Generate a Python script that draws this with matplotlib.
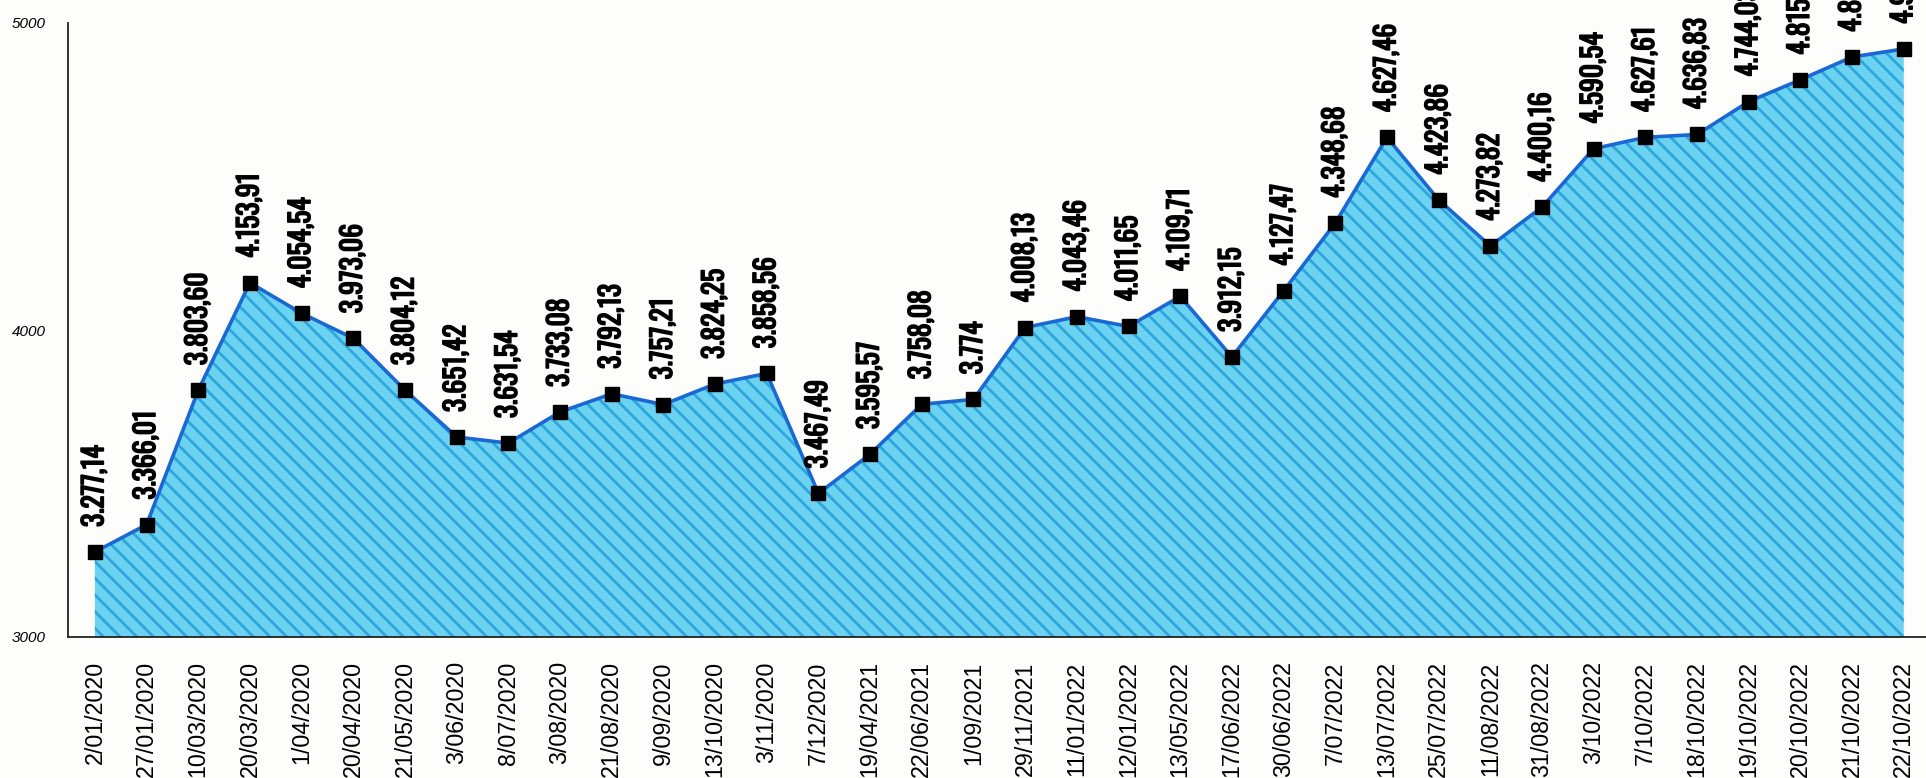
import matplotlib
matplotlib.use("Agg")
import matplotlib.pyplot as plt
import matplotlib.patheffects as pe

dates = ["2/01/2020", "27/01/2020", "10/03/2020", "20/03/2020", "1/04/2020",
         "20/04/2020", "21/05/2020", "3/06/2020", "8/07/2020", "3/08/2020",
         "21/08/2020", "9/09/2020", "13/10/2020", "3/11/2020", "7/12/2020",
         "19/04/2021", "22/06/2021", "1/09/2021", "29/11/2021", "11/01/2022",
         "12/01/2022", "13/05/2022", "17/06/2022", "30/06/2022", "7/07/2022",
         "13/07/2022", "25/07/2022", "11/08/2022", "31/08/2022", "3/10/2022",
         "7/10/2022", "18/10/2022", "19/10/2022", "20/10/2022", "21/10/2022",
         "22/10/2022"]
values = [3277.14, 3366.01, 3803.60, 4153.91, 4054.54,
          3973.06, 3804.12, 3651.42, 3631.54, 3733.08,
          3792.13, 3757.21, 3824.25, 3858.56, 3467.49,
          3595.57, 3758.08, 3774.00, 4008.13, 4043.46,
          4011.65, 4109.71, 3912.15, 4127.47, 4348.68,
          4627.46, 4423.86, 4273.82, 4400.16, 4590.54,
          4627.61, 4636.83, 4744.03, 4815.20, 4889.40,
          4915.60]
value_labels = ["3.277,14", "3.366,01", "3.803,60", "4.153,91", "4.054,54",
                "3.973,06", "3.804,12", "3.651,42", "3.631,54", "3.733,08",
                "3.792,13", "3.757,21", "3.824,25", "3.858,56", "3.467,49",
                "3.595,57", "3.758,08", "3.774", "4.008,13", "4.043,46",
                "4.011,65", "4.109,71", "3.912,15", "4.127,47", "4.348,68",
                "4.627,46", "4.423,86", "4.273,82", "4.400,16", "4.590,54",
                "4.627,61", "4.636,83", "4.744,03", "4.815,20", "4.889,40",
                "4.915,60"]
yticks = [3000, 4000, 5000]

label_font = ["Oswald", "Roboto Condensed", "DejaVu Sans"]
tick_font = ["Liberation Sans", "Arimo", "Arial", "DejaVu Sans"]

plt.rcParams["hatch.linewidth"] = 2.0

fig = plt.figure(figsize=(19.26, 7.78), dpi=100, facecolor="#fdfdfb")
ax = fig.add_axes([68 / 1926, 1 - 637 / 778, 1 - 68 / 1926, (637 - 23) / 778])
ax.set_facecolor("none")

x = list(range(len(values)))
ax.fill_between(x, values, 3000, facecolor="#6bd3f1", edgecolor="#2ea6dc",
                hatch="\\\\", linewidth=0, zorder=1)
ax.plot(x, values, color="#1a68d4", linewidth=2.6, zorder=2)
ax.plot(x, values, linestyle="none", marker="s", markersize=9.5,
        color="black", zorder=3)

bold_fx = [pe.withStroke(linewidth=1.1, foreground="black")]
annots = []
for xi, v, lab in zip(x, values, value_labels):
    annots.append(ax.annotate(lab, (xi, v), xytext=(0, 18),
                              textcoords="offset points", rotation=90,
                              ha="center", va="bottom", fontsize=18,
                              fontweight="bold", family=label_font,
                              color="black", annotation_clip=False,
                              path_effects=bold_fx))

ax.set_xlim(-0.52, len(values) - 1 + 0.43)
ax.set_ylim(3000, 5000)
ax.set_xticks(x)
ax.set_xticklabels(dates, rotation=90, fontsize=16.5, family=tick_font,
                   va="top", ha="center")
ax.set_yticks(yticks)
ax.set_yticklabels([str(t) for t in yticks], fontsize=12, style="italic",
                   family=tick_font)
ax.tick_params(axis="x", length=0, pad=17.5)
ax.tick_params(axis="y", length=0, pad=16)
for s in ["top", "right"]:
    ax.spines[s].set_visible(False)
for s in ["left", "bottom"]:
    ax.spines[s].set_linewidth(1.3)
    ax.spines[s].set_color("#222222")

# fit text sizes to the reference's measured text lengths (in pixels)
fig.canvas.draw()
r = fig.canvas.get_renderer()
tl = ax.get_xticklabels()[0]
k = 103.0 / tl.get_window_extent(r).height
for t in ax.get_xticklabels():
    t.set_fontsize(16.5 * k)
k2 = 93.0 / annots[2].get_window_extent(r).height
for a in annots:
    a.set_fontsize(18 * k2)
yl = ax.get_yticklabels()[0]
k3 = 34.0 / yl.get_window_extent(r).width
for t in ax.get_yticklabels():
    t.set_fontsize(12 * k3)

fig.savefig("out.png", dpi=100, facecolor=fig.get_facecolor())
